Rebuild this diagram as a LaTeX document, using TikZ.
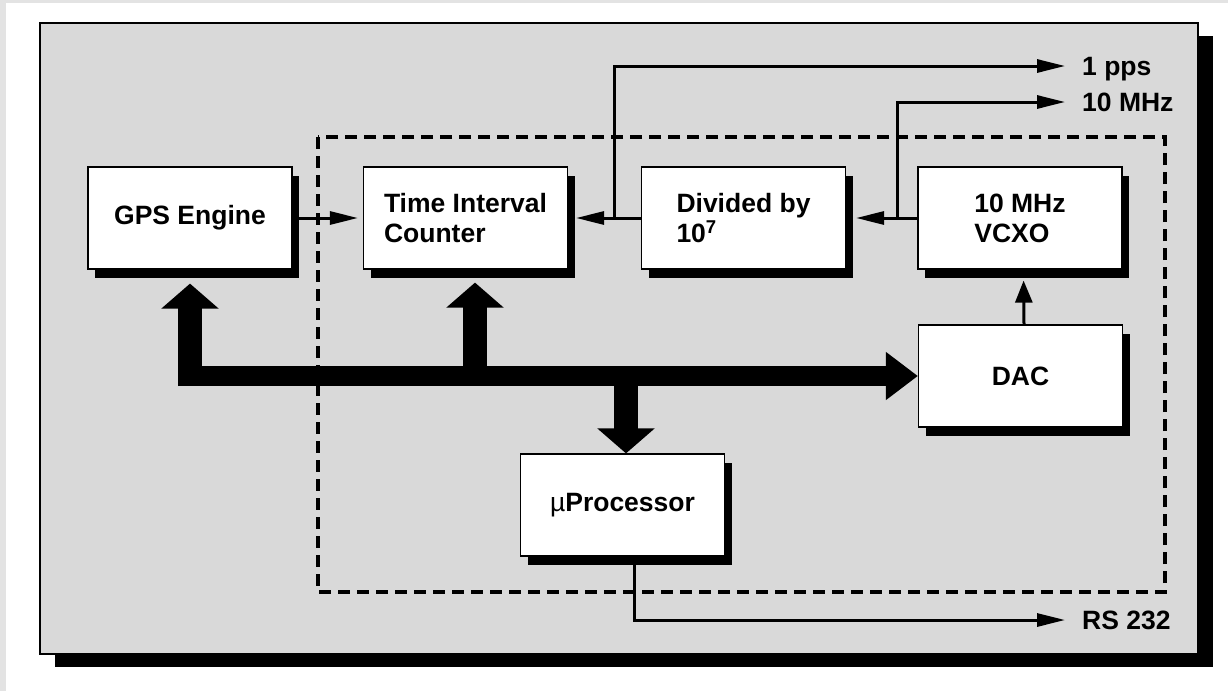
\documentclass[tikz,border=0pt]{standalone}
\usepackage{fontspec}
\setmainfont{Liberation Sans}
\usetikzlibrary{arrows.meta, shadows}

\definecolor{panel}{HTML}{D9D9D9}
\definecolor{edge}{HTML}{E3E3E3}

\tikzset{
  block/.style={draw, line width=1.2pt, fill=white, minimum width=204pt, minimum height=102pt,
    inner sep=0pt, align=left, font=\bfseries\fontsize{26.5}{30}\selectfont,
    drop shadow={shadow xshift=7pt, shadow yshift=-9pt, fill=black, opacity=1}},
  sig/.style={line width=3pt, -{Triangle[length=28pt,width=13pt]}},
  busline/.style={line width=20pt, -{Triangle[length=32pt,width=46pt]}},
  busup/.style={line width=24pt, -{Triangle[length=25pt,width=56pt]}},
  outlabel/.style={anchor=west, inner sep=0pt, text height=19pt, text depth=0pt,
    font=\bfseries\fontsize{26.5}{30}\selectfont}
}

\begin{document}
\begin{tikzpicture}[x=1pt, y=-1pt]
\useasboundingbox (0,0) rectangle (1228,691);

% page and panel
\fill[edge] (0,0) rectangle (1228,691);
\fill[white] (6,3) rectangle (1228,691);
\draw[fill=panel, line width=1.2pt, drop shadow={shadow xshift=15pt, shadow yshift=-13pt, fill=black, opacity=1}] (40,23) rectangle (1198,654);

% receiver boundary
\draw[line width=3.5pt, dash pattern=on 12pt off 7pt] (318,137) rectangle (1165,592);

% blocks
\node[block] (gps) at (190,218) {GPS Engine};
\node[block] (tic) at (465.5,218) {Time Interval\\Counter};
\node[block] (div) at (743.5,218) {Divided by\\10\textsuperscript{7}};
\node[block] (vcxo) at (1020,218) {10 MHz\\VCXO};
\node[block] (dac) at (1020.5,376) {DAC};
\node[block] (mup) at (622.5,505) {{\mdseries µ}Processor};

% outputs
\node[outlabel] (pps) at (1082,66) {1 pps};
\node[outlabel] (mhz) at (1082,102) {10 MHz};
\node[outlabel] (rs) at (1082,620) {RS 232};

% signal lines
\coordinate (b1) at (614,218);
\coordinate (b2) at (897,218);
\draw[sig, shorten >=5pt] (gps.east) -- (tic.west);
\draw[sig, shorten >=8pt] (div.west) -- (tic.east);
\draw[sig, shorten >=10pt] (vcxo.west) -- (div.east);
\draw[sig, shorten >=17pt] (b1) |- (pps.west);
\draw[sig, shorten >=17pt] (b2) |- (mhz.west);
\draw[sig, -{Triangle[length=22pt,width=17pt]}, shorten >=11pt] ([xshift=3.5pt]dac.north) -- ([xshift=3.5pt]vcxo.south);
\coordinate (mupout) at ([xshift=11.5pt]mup.south);
\draw[sig, shorten >=17pt] (mupout) |- (rs.west);

% bus
\coordinate (busL) at (178,376);
\coordinate (busB) at (178,386);
\coordinate (gpsin) at ([yshift=-14pt]gps.south);
\coordinate (ticin) at ([xshift=9.5pt, yshift=-13pt]tic.south);
\coordinate (mupin) at ([xshift=3.5pt]mup.north);
\draw[busline] (busL) -- (dac.west);
\draw[busup] (busB -| gpsin) -- (gpsin);
\draw[busup] (busL -| ticin) -- (ticin);
\draw[busup] (busL -| mupin) -- (mupin);

\end{tikzpicture}
\end{document}
